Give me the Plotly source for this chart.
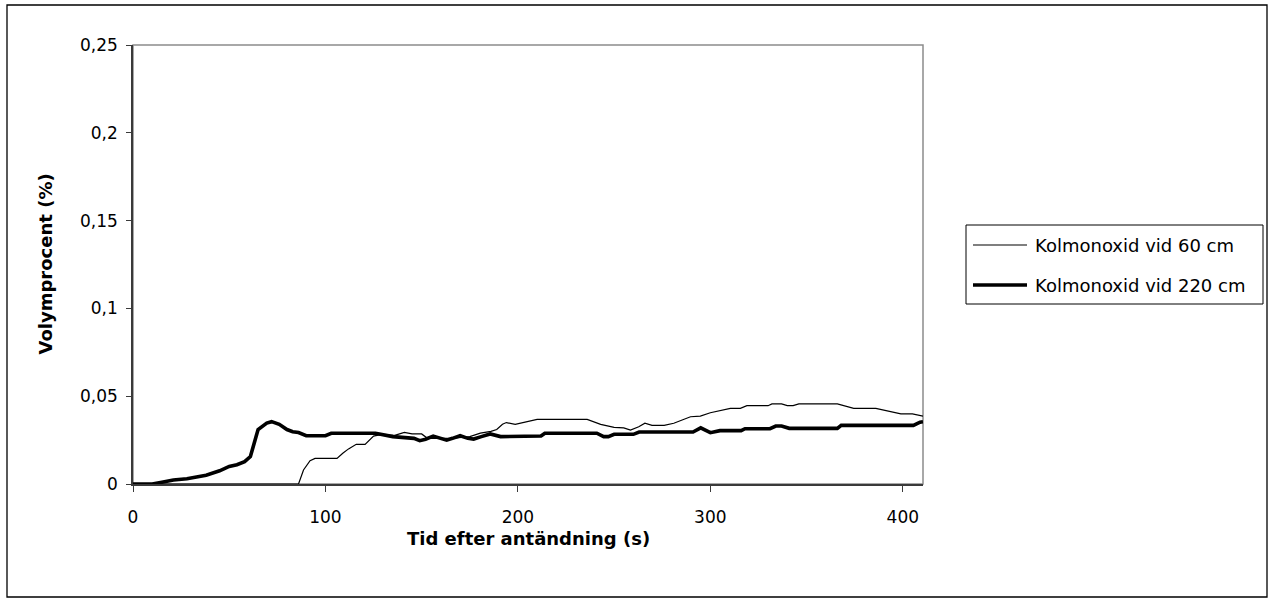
import plotly.graph_objects as go

# CO concentration measured at two heights after ignition
t_60 = [0, 86, 88.6, 92, 94.6, 106, 109, 112, 116, 120.6, 125, 128, 136, 141, 145, 150, 153,
        165, 175, 180.5, 186, 189, 192, 194, 198.6, 204.7, 210, 236, 243, 250, 255, 258.5,
        262.8, 266, 269.7, 276, 281, 289.7, 294.8, 300, 310.4, 315.6, 319, 330, 332, 337,
        340, 343, 346, 366, 374.5, 386, 399, 405, 410.5]
co_60 = [0, 0, 0.008, 0.0133, 0.0146, 0.0146, 0.0175, 0.020, 0.0226, 0.0226, 0.0273, 0.028,
         0.0277, 0.0294, 0.0285, 0.0285, 0.026, 0.026, 0.027, 0.029, 0.030, 0.031, 0.034,
         0.035, 0.034, 0.0353, 0.0368, 0.0368, 0.034, 0.0323, 0.032, 0.0307, 0.0326, 0.0346,
         0.0334, 0.0334, 0.0346, 0.0383, 0.0387, 0.0406, 0.0431, 0.0431, 0.0446, 0.0446,
         0.0456, 0.0456, 0.0446, 0.0446, 0.0456, 0.0456, 0.0431, 0.0431, 0.0399, 0.0399, 0.0387]

t_220 = [0, 10, 15, 21, 28, 38, 45, 50, 54, 58, 61, 63, 65, 69.5, 72, 76, 80, 83, 86, 90,
         100, 103, 126, 135, 140, 146, 149, 152, 156, 160, 163, 166, 170, 174, 177, 181,
         185.6, 191, 212, 214, 241, 244.6, 247, 250, 260, 263, 291, 295, 300, 305, 316, 318,
         331, 334, 337, 341, 366, 368, 405.5, 409, 410.5]
co_220 = [0, 0, 0.001, 0.0023, 0.003, 0.005, 0.0075, 0.010, 0.011, 0.0127, 0.0156, 0.024,
          0.031, 0.0347, 0.0355, 0.034, 0.031, 0.0298, 0.0293, 0.0275, 0.0275, 0.0289, 0.0289,
          0.027, 0.0266, 0.026, 0.0247, 0.0255, 0.0273, 0.026, 0.025, 0.026, 0.0275, 0.026,
          0.0256, 0.027, 0.0285, 0.027, 0.0273, 0.0289, 0.0289, 0.027, 0.027, 0.0283, 0.0283,
          0.0296, 0.0296, 0.032, 0.0292, 0.0304, 0.0304, 0.0315, 0.0315, 0.033, 0.033, 0.0317,
          0.0317, 0.0334, 0.0334, 0.0352, 0.0355]

series_names = ["Kolmonoxid vid 60 cm", "Kolmonoxid vid 220 cm"]
x_ticks = [0, 100, 200, 300, 400]
y_ticks = [0, 0.05, 0.1, 0.15, 0.2, 0.25]
y_tick_text = ["0", "0,05", "0,1", "0,15", "0,2", "0,25"]

FONT = "DejaVu Sans"
W, H = 1274, 604
ML, MR, MT, MB = 133, 351, 45, 120
PW, PH = W - ML - MR, H - MT - MB


def px(x):
    return (x - ML) / PW


def py(y):
    return (H - MB - y) / PH


fig = go.Figure()
fig.add_trace(go.Scatter(x=t_60, y=co_60, mode="lines", name=series_names[0],
                         line=dict(color="black", width=1.2), showlegend=False))
fig.add_trace(go.Scatter(x=t_220, y=co_220, mode="lines", name=series_names[1],
                         line=dict(color="black", width=3.6), showlegend=False))

axis_col = "#3a3a3a"
fig.update_layout(
    width=W, height=H,
    margin=dict(l=ML, r=MR, t=MT, b=MB),
    paper_bgcolor="white", plot_bgcolor="white",
    font=dict(family=FONT, size=17, color="black"),
    xaxis=dict(range=[0, 410.5], tickvals=x_ticks, ticks="outside", ticklen=6,
               tickcolor=axis_col, showline=True, linecolor=axis_col, linewidth=1.5,
               showgrid=False, zeroline=False, tickfont=dict(size=17),
               ticklabelstandoff=11),
    yaxis=dict(range=[0, 0.25], tickvals=y_ticks, ticktext=y_tick_text, ticks="outside",
               ticklen=5, tickcolor=axis_col, showline=True, linecolor=axis_col,
               linewidth=1.5, showgrid=False, zeroline=False, tickfont=dict(size=17),
               ticklabelstandoff=5),
    xaxis2=dict(matches="x", overlaying="x", anchor="y", tickvals=x_ticks, ticks="inside",
                ticklen=6, tickcolor=axis_col, showticklabels=False, showline=False,
                showgrid=False, zeroline=False),
    yaxis2=dict(matches="y", overlaying="y", anchor="x", tickvals=y_ticks, ticks="inside",
                ticklen=6, tickcolor=axis_col, showticklabels=False, showline=False,
                showgrid=False, zeroline=False),
)

shapes = [
    # plot area frame
    dict(type="rect", xref="paper", yref="paper", x0=0, x1=1, y0=0, y1=1,
         line=dict(color="#8c8c8c", width=1.5), layer="below"),
    # chart area frame
    dict(type="rect", xref="paper", yref="paper", x0=px(7), x1=px(1267), y0=py(597), y1=py(5),
         line=dict(color="black", width=1.3)),
    # legend frame and line samples
    dict(type="rect", xref="paper", yref="paper", x0=px(966), x1=px(1263), y0=py(304), y1=py(225),
         line=dict(color="black", width=1), fillcolor="white"),
    dict(type="line", xref="paper", yref="paper", x0=px(973), x1=px(1027), y0=py(245), y1=py(245),
         line=dict(color="black", width=1.2)),
    dict(type="line", xref="paper", yref="paper", x0=px(973), x1=px(1027), y0=py(285), y1=py(285),
         line=dict(color="black", width=3.6)),
]
fig.update_layout(shapes=shapes)

annotations = [
    dict(text=series_names[0], xref="paper", yref="paper", x=px(1033), y=py(245),
         xanchor="left", yanchor="middle", showarrow=False, font=dict(size=18)),
    dict(text=series_names[1], xref="paper", yref="paper", x=px(1033), y=py(285),
         xanchor="left", yanchor="middle", showarrow=False, font=dict(size=18)),
    dict(text="<b>Tid efter antändning (s)</b>", xref="paper", yref="paper", x=0.5, y=py(538),
         xanchor="center", yanchor="middle", showarrow=False, font=dict(size=18)),
    dict(text="<b>Volymprocent (%)</b>", xref="paper", yref="paper", x=px(45), y=0.5,
         xanchor="center", yanchor="middle", textangle=-90, showarrow=False,
         font=dict(size=18)),
]
fig.update_layout(annotations=annotations)

fig.write_html("out.html")
